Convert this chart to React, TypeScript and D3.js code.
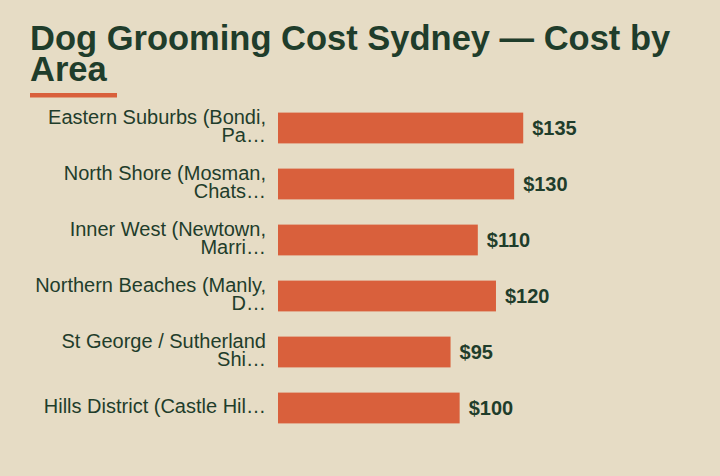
import React, { useEffect, useRef } from 'react';
import * as d3 from 'd3';

// chart data
const areas = [
  'Eastern Suburbs (Bondi, Paddington)',
  'North Shore (Mosman, Chatswood)',
  'Inner West (Newtown, Marrickville)',
  'Northern Beaches (Manly, Dee Why)',
  'St George / Sutherland Shire',
  'Hills District (Castle Hill, Baulkham Hills)',
];
const costs = [135, 130, 110, 120, 95, 100];
const titleText = 'Dog Grooming Cost Sydney \u2014 Cost by Area';

const WIDTH = 720;
const HEIGHT = 476;
const BG = '#e6dcc5';
const BAR = '#d9603c';
const INK = '#1f3d2b';
const FONT = '"Liberation Sans", Arial, Helvetica, sans-serif';

const App: React.FC = () => {
  const svgRef = useRef<SVGSVGElement>(null);

  useEffect(() => {
    if (!svgRef.current) return;
    const svg = d3.select(svgRef.current);
    svg.selectAll('*').remove();

    svg.append('rect').attr('width', WIDTH).attr('height', HEIGHT).attr('fill', BG);

    // wrap words of a string into lines no wider than maxW
    const wrap = (str: string, size: number, weight: string, maxW: number) => {
      const probe = svg.append('text')
        .attr('font-family', FONT)
        .attr('font-size', size)
        .attr('font-weight', weight);
      const words = str.split(' ');
      const lines: string[] = [];
      let cur = '';
      words.forEach(w => {
        const test = cur ? cur + ' ' + w : w;
        probe.text(test);
        if ((probe.node() as SVGTextElement).getComputedTextLength() > maxW && cur) {
          lines.push(cur);
          cur = w;
        } else {
          cur = test;
        }
      });
      if (cur) lines.push(cur);
      probe.remove();
      return lines;
    };

    // title
    const titleLines = wrap(titleText, 34.5, 'bold', 660);
    const title = svg.append('text')
      .attr('font-family', FONT)
      .attr('font-size', 34.5)
      .attr('font-weight', 'bold')
      .attr('fill', INK);
    titleLines.forEach((l, i) => {
      title.append('tspan').attr('x', 30).attr('y', 50 + i * 31).text(l);
    });

    svg.append('rect')
      .attr('x', 30)
      .attr('y', 93)
      .attr('width', 87)
      .attr('height', 4.5)
      .attr('fill', BAR);

    const data = areas.map((a, i) => ({ area: a, cost: costs[i] }));

    const x = d3.scaleLinear()
      .domain([0, (d3.max(costs) as number) * 1.15])
      .range([278, 560]);

    const y = d3.scaleBand<string>()
      .domain(areas)
      .range([100, 436])
      .paddingInner(0.45)
      .paddingOuter(0.225);

    const g = svg.append('g');

    g.selectAll('rect.bar')
      .data(data)
      .join('rect')
      .attr('class', 'bar')
      .attr('x', x(0))
      .attr('y', d => y(d.area) || 0)
      .attr('width', d => x(d.cost) - x(0))
      .attr('height', y.bandwidth())
      .attr('fill', BAR);

    g.selectAll('text.value')
      .data(data)
      .join('text')
      .attr('class', 'value')
      .attr('x', d => x(d.cost) + 9)
      .attr('y', d => (y(d.area) || 0) + y.bandwidth() / 2)
      .attr('dy', '0.35em')
      .attr('font-family', FONT)
      .attr('font-size', 20)
      .attr('font-weight', 'bold')
      .attr('fill', INK)
      .text(d => `$${d.cost}`);

    // category labels: cut to 26 chars, then wrapped
    const lh = 18.5;
    data.forEach(d => {
      const short = d.area.length > 26 ? d.area.slice(0, 26) + '\u2026' : d.area;
      const lines = wrap(short, 20, 'normal', 236);
      const cy = (y(d.area) || 0) + y.bandwidth() / 2;
      const t = g.append('text')
        .attr('font-family', FONT)
        .attr('font-size', 20)
        .attr('fill', INK)
        .attr('text-anchor', 'end');
      lines.forEach((l, i) => {
        t.append('tspan')
          .attr('x', 266)
          .attr('y', cy + (i - (lines.length - 1) / 2) * lh + 5)
          .text(l);
      });
    });
  }, []);

  return (
    <svg
      ref={svgRef}
      width={WIDTH}
      height={HEIGHT}
      style={{ position: 'absolute', left: 0, top: 0, display: 'block' }}
    />
  );
};

export default App;
